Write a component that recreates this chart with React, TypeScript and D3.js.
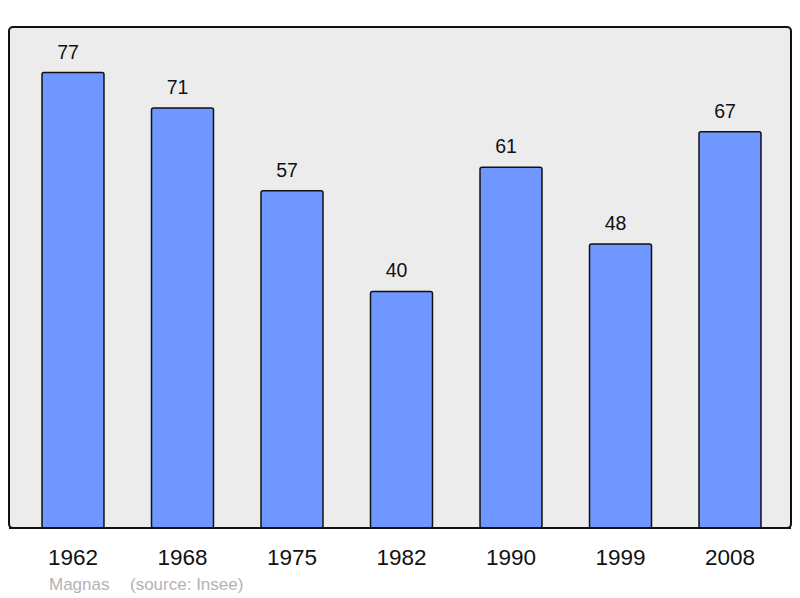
import React from 'react';
import * as d3 from 'd3';

const years = ['1962', '1968', '1975', '1982', '1990', '1999', '2008'];
const population = [77, 71, 57, 40, 61, 48, 67];
const townName = 'Magnas';
const sourceNote = '(source: Insee)';

const W = 800;
const H = 598;

const App = () => {
  const frame = { left: 9, top: 27, right: 791, bottom: 528 };

  const x = d3.scaleBand()
    .domain(years)
    .range([42, 761])
    .paddingInner(0.434)
    .paddingOuter(0);

  const y = d3.scaleLinear()
    .domain([0, d3.max(population) * 1.1])
    .range([frame.bottom, frame.top]);

  return (
    <svg width={W} height={H} style={{ position: 'absolute', left: 0, top: 0, fontFamily: '"Liberation Sans", Arial, sans-serif' }}>
      <rect x={0} y={0} width={W} height={H} fill="#fff" />
      <rect
        x={frame.left}
        y={frame.top}
        width={frame.right - frame.left}
        height={frame.bottom - frame.top}
        rx={4}
        fill="#ececec"
        stroke="#111"
        strokeWidth={2}
      />
      {population.map((v, i) => (
        <g key={years[i]}>
          <rect
            x={x(years[i])}
            y={y(v)}
            width={x.bandwidth()}
            height={frame.bottom - y(v)}
            rx={2}
            fill="#7097ff"
            stroke="#111"
            strokeWidth={1.5}
          />
          <text
            x={x(years[i]) + x.bandwidth() / 2 - 5}
            y={y(v) - 14}
            textAnchor="middle"
            fontSize={19.5}
            fill="#111"
          >
            {v}
          </text>
          <text
            x={x(years[i]) + x.bandwidth() / 2}
            y={565}
            textAnchor="middle"
            fontSize={22.5}
            fill="#111"
          >
            {years[i]}
          </text>
        </g>
      ))}
      {/* redraw frame bottom line over the bars */}
      <line x1={frame.left} x2={frame.right} y1={frame.bottom} y2={frame.bottom} stroke="#111" strokeWidth={2} />
      <text x={49} y={590} fontSize={17} fill="#b3b3b3">{townName}</text>
      <text x={130} y={590} fontSize={17} fill="#b3b3b3">{sourceNote}</text>
    </svg>
  );
};

export default App;
